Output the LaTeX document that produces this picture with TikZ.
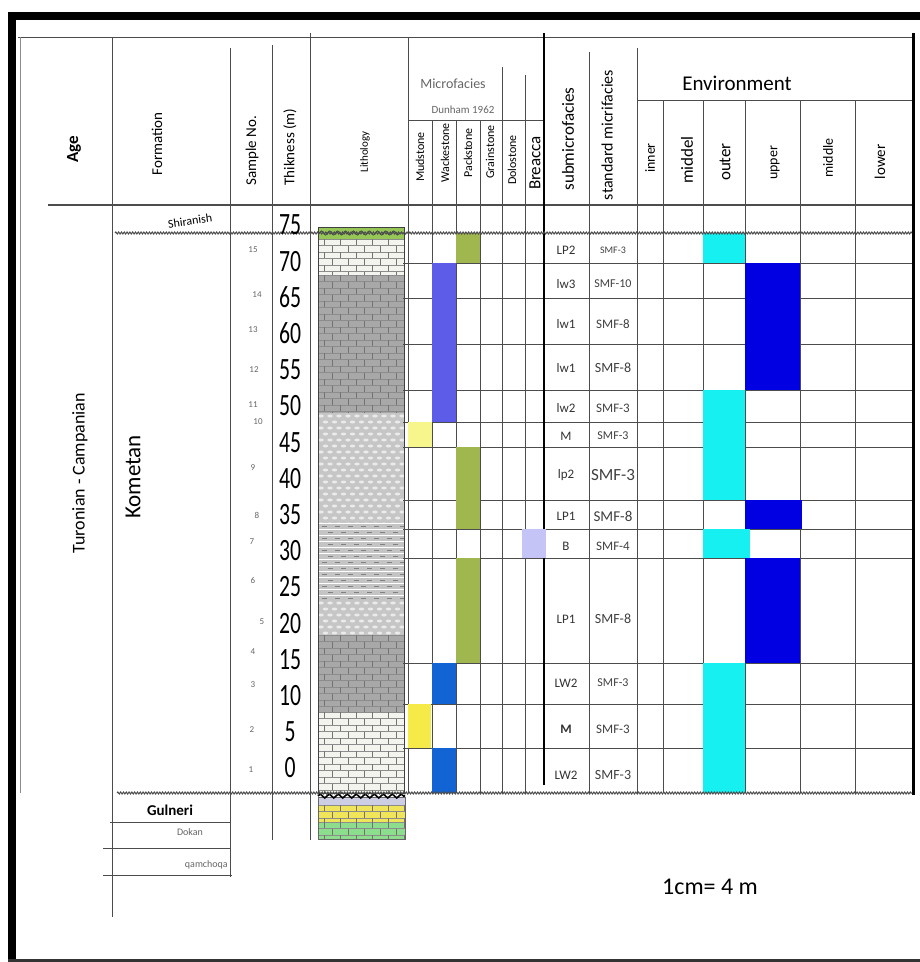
\documentclass[tikz,border=0pt]{standalone}
\usepackage{fontspec}
\setmainfont{Carlito}
\usepackage{graphicx}
\usetikzlibrary{decorations.pathmorphing}
\definecolor{packgreen}{RGB}{160,182,78}
\definecolor{wackviolet}{RGB}{92,92,232}
\definecolor{wackblue}{RGB}{18,100,212}
\definecolor{mudpale}{RGB}{246,246,140}
\definecolor{mudyellow}{RGB}{246,234,72}
\definecolor{breclilac}{RGB}{196,196,246}
\definecolor{outercyan}{RGB}{22,240,240}
\definecolor{upperblue}{RGB}{0,0,226}
\definecolor{limewhite}{RGB}{244,244,238}
\definecolor{limegray}{RGB}{168,168,168}
\definecolor{chalkgray}{RGB}{198,198,198}
\definecolor{marlgray}{RGB}{196,196,196}
\definecolor{topgreen}{RGB}{150,198,86}
\definecolor{baseyellow}{RGB}{240,228,90}
\definecolor{basegreen}{RGB}{140,222,140}
\definecolor{baselilac}{RGB}{205,205,228}
\newcommand{\fs}[1]{\fontsize{#1}{#1}\selectfont}
\newcommand{\tallnum}[1]{\scalebox{0.7}[1]{#1}}
% lithology fills
\newcommand{\limebed}[5]{%
  \begin{scope}
    \clip (#1,#2) rectangle (#3,#4);
    \fill[#5] (#1,#2) rectangle (#3,#4);
    \foreach \k in {0,...,22}{
      \draw[black!45, line width=0.4pt] (#1,{#2+6.5*\k}) -- (#3,{#2+6.5*\k});
      \foreach \j in {0,...,5}
        \draw[black!55, line width=0.5pt]
          ({#1+6+16*\j+8*mod(\k,2)},{#2+6.5*\k}) -- ++(0,6.5);
    }
  \end{scope}}
\newcommand{\chalkbed}[4]{%
  \begin{scope}
    \clip (#1,#2) rectangle (#3,#4);
    \fill[chalkgray] (#1,#2) rectangle (#3,#4);
    \foreach \k in {0,...,19}
      \foreach \j in {0,...,9}
        \fill[white!92!black] ({#1+3+9*\j+4.5*mod(\k,2)},{#2+3+6*\k}) ellipse (2.7pt and 1.5pt);
  \end{scope}}
\newcommand{\marlbed}[4]{%
  \begin{scope}
    \clip (#1,#2) rectangle (#3,#4);
    \fill[marlgray] (#1,#2) rectangle (#3,#4);
    \foreach \k in {0,...,14}{
      \draw[white, line width=0.6pt] (#1,{#2+6*\k}) -- (#3,{#2+6*\k});
      \foreach \j in {0,...,6}
        \draw[black!50, line width=1pt]
          ({#1+4+13*\j+6*mod(\k,2)},{#2+3+6*\k}) -- ++(5,0);
    }
  \end{scope}}
\tikzset{
  rule/.style={black!70, line width=0.8pt},
  boldrule/.style={black, line width=2.2pt},
  wavy/.style={black!70, line width=1pt, decorate,
               decoration={snake, amplitude=1pt, segment length=2.8pt}},
  colhead/.style={rotate=90, inner sep=0pt, font=\fs{15}},
  faciehead/.style={rotate=90, inner sep=0pt, font=\fs{12}},
  envsub/.style={rotate=90, inner sep=0pt, font=\fs{15}},
  depthnum/.style={inner sep=0pt, font=\fs{31}},
  sampnum/.style={inner sep=0pt, font=\fs{9}, text=black!60},
  facies/.style={inner sep=0pt, font=\fs{13}, text=black!80},
  smf/.style={inner sep=0pt, text=black!75},
  unitlab/.style={inner sep=0pt, font=\fs{10}, text=black!60},
}
\begin{document}
\begin{tikzpicture}[x=1pt,y=-1pt]
  \useasboundingbox (0,0) rectangle (920,962);
  \fill[white] (0,0) rectangle (920,962);

  % frame
  \draw[black, line width=8pt] (12,962) -- (12,16) -- (920,16);
  \draw[black!80, line width=3pt] (8,960) -- (920,960);

  % lithology column
  \fill[topgreen] (318,227) rectangle (404,239);
  \draw[black!70, line width=0.9pt, decorate,
        decoration={snake, amplitude=2pt, segment length=8pt}] (319,233) -- (403,233);
  \limebed{318}{239}{404}{275}{limewhite}
  \limebed{318}{275}{404}{413}{limegray}
  \chalkbed{318}{413}{404}{523}
  \marlbed{318}{523}{404}{600}
  \chalkbed{318}{600}{404}{635}
  \limebed{318}{635}{404}{712}{limegray}
  \limebed{318}{712}{404}{793}{limewhite}
  \fill[baselilac] (318,797) rectangle (405,805);
  \limebed{318}{805}{405}{822}{baseyellow}
  \limebed{318}{822}{405}{839}{basegreen}
  \draw[black!75, line width=0.9pt] (318,227) rectangle (404,793);
  \draw[black!60, line width=0.6pt] (318,797) rectangle (405,839);
  \draw[black, line width=1.6pt, decorate,
        decoration={zigzag, amplitude=2pt, segment length=9pt}] (318,796) -- (405,796);

  % table rules
  \draw[rule] (18,37) -- (912,37);
  \draw[rule, line width=1.2pt] (48,205) -- (912,205);
  \draw[rule, black!45] (20,37) -- (20,793);
  \draw[rule] (112,37) -- (112,917);
  \draw[rule] (230,48) -- (230,877);
  \draw[rule] (272,45) -- (272,840);
  \draw[rule] (310,33) -- (310,840);
  \draw[rule] (408,37) -- (408,793);
  \draw[rule] (408,120) -- (544,120);
  \foreach \xx in {432,456,480}
    \draw[rule] (\xx,120) -- (\xx,793);
  \draw[rule] (502,67) -- (502,793);
  \draw[rule] (525,75) -- (525,793);
  \draw[rule] (589,52) -- (589,793);
  \draw[rule] (637,48) -- (637,793);
  \draw[rule] (637,100) -- (912,100);
  \foreach \xx in {663,703,745,800,855}
    \draw[rule] (\xx,100) -- (\xx,793);
  \foreach \yy in {263,298,344,390,422,447,500,529,558,663,704,748}
    \draw[rule] (403,\yy) -- (912,\yy);
  \draw[rule] (110,822) -- (230,822);
  \draw[rule] (103,848) -- (230,848);
  \draw[rule] (103,875) -- (232,875);

  % microfacies blocks
  \draw[boldrule] (544,33) -- (544,785);
  \fill[packgreen] (456,233) rectangle (480,263);
  \fill[wackviolet] (432,263) rectangle (456,422);
  \fill[mudpale] (408,422) rectangle (432,447);
  \fill[packgreen] (456,447) rectangle (480,529);
  \fill[breclilac] (522,529) rectangle (546,558);
  \fill[packgreen] (456,558) rectangle (480,663);
  \fill[wackblue] (432,663) rectangle (456,704);
  \fill[mudyellow] (408,704) rectangle (431,748);
  \fill[wackblue] (432,748) rectangle (456,793);

  % environment blocks
  \fill[outercyan] (703,233) rectangle (745,263);
  \fill[upperblue] (745,263) rectangle (800,390);
  \fill[outercyan] (703,390) rectangle (745,500);
  \fill[upperblue] (745,500) rectangle (802,529);
  \fill[outercyan] (703,529) rectangle (750,558);
  \fill[upperblue] (745,558) rectangle (800,663);
  \fill[outercyan] (703,663) rectangle (745,793);
  \draw[black, line width=3pt] (913,33) -- (913,795);

  % unconformities
  \draw[wavy] (115,233) -- (912,233);
  \draw[wavy] (117,793) -- (912,793);

  % header
  \node[colhead, font=\fs{17}\bfseries] (agehead) at (74,149) {Age};
  \node[colhead] (formhead) at (157,144) {Formation};
  \node[colhead] (samplehead) at (252,151) {Sample No.};
  \node[colhead] (thickhead) at (290,147) {Thikness (m)};
  \node[colhead, font=\fs{11}] (lithhead) at (365,152) {Lithology};
  \node[inner sep=0pt, font=\fs{14}, text=black!60] (microhead) at (453,84) {Microfacies};
  \node[inner sep=0pt, font=\fs{11}, text=black!60] (dunhamhead) at (463,110) {Dunham 1962};
  \node[faciehead] (mudhead) at (420,157) {Mudstone};
  \node[faciehead] (wackhead) at (445,153) {Wackestone};
  \node[faciehead] (packhead) at (468,153) {Packstone};
  \node[faciehead] (grainhead) at (490,152) {Grainstone};
  \node[faciehead] (dolohead) at (512,160) {Dolostone};
  \node[colhead, font=\fs{17}] (brechead) at (535,163) {Breacca};
  \node[colhead, font=\fs{17}] (subhead) at (568,139) {submicrofacies};
  \node[colhead, font=\fs{16}] (smfhead) at (607,135) {standard micrifacies};
  \node[inner sep=0pt, font=\fs{21}] (envhead) at (737,83) {Environment};
  \node[envsub, font=\fs{14}] (innerhead) at (650,158) {inner};
  \node[envsub, font=\fs{17}] (middelhead) at (687,160) {middel};
  \node[envsub, font=\fs{17}] (outerhead) at (725,162) {outer};
  \node[envsub, font=\fs{14}] (upperhead) at (775,163) {upper};
  \node[envsub, font=\fs{14}] (middlehead) at (828,158) {middle};
  \node[envsub] (lowerhead) at (880,162) {lower};

  % age and formations
  \node[colhead, font=\fs{18}] (age) at (80,473) {Turonian - Campanian};
  \node[colhead, font=\fs{23}] (kometan) at (133,477) {Kometan};
  \node[inner sep=0pt, font=\fs{12}, rotate=8] (shiranish) at (190,221) {Shiranish};
  \node[inner sep=0pt, font=\fs{15}\bfseries] (gulneri) at (170,810) {Gulneri};
  \node[unitlab] (dokan) at (190,832) {Dokan};
  \node[unitlab, anchor=east] (qamchoqa) at (228,865) {qamchoqa};

  % depth scale and samples
  \foreach \d [count=\i from 0] in {75,70,...,0}
    \node[depthnum] (depth\i) at (290,{225+36.2*\i}) {\tallnum{\d}};
  \foreach \n/\xx/\yy in {15/253/250, 14/257/295, 13/253/330, 12/254/370,
      11/253/405, 10/258/422, 9/253/468, 8/257/515, 7/252/542, 6/253/580,
      5/262/622, 4/253/652, 3/253/685, 2/252/730, 1/251/770}
    \node[sampnum] (sample\n) at (\xx,\yy) {\n};

  % submicrofacies and SMF
  \foreach \yy/\sub/\smftext/\sz [count=\i] in {
      250/LP2/SMF-3/10, 284/lw3/SMF-10/12, 324/lw1/SMF-8/13, 368/lw1/SMF-8/14,
      408/lw2/SMF-3/13, 436/M/SMF-3/12, 475/lp2/SMF-3/17, 516/LP1/SMF-8/15,
      546/B/SMF-4/13, 619/LP1/SMF-8/14, 683/LW2/SMF-3/12, 729/\textbf{M}/SMF-3/13,
      775/LW2/SMF-3/14}{
    \node[facies] (sub\i) at (566,\yy) {\sub};
    \node[smf, font=\fs{\sz}] (smf\i) at (613,\yy) {\smftext};
  }

  \node[inner sep=0pt, font=\fs{24}] (scale) at (710,887) {1cm= 4 m};
\end{tikzpicture}
\end{document}
